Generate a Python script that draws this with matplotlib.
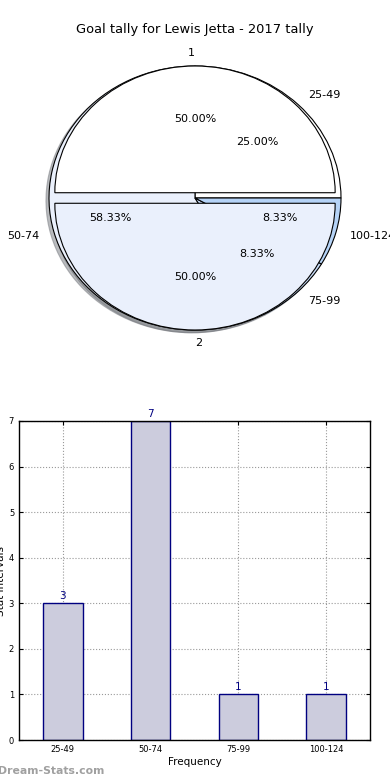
import matplotlib
matplotlib.use('Agg')
import matplotlib.pyplot as plt

# goal tallies per interval
intervals = ['25-49', '50-74', '75-99', '100-124']
counts = [3, 7, 1, 1]

# halves of the season
halves = ['1', '2']
half_values = [1, 1]

interval_colors = ['white', '#eaf0fc', '#c8dcf8', '#b5d3f7']
half_colors = ['white', '#eaf0fc']

fig = plt.figure(figsize=(3.9, 7.8), dpi=100)

fig.text(0.5, 1 - 30 / 780, 'Goal tally for Lewis Jetta - 2017 tally',
         ha='center', va='center', fontsize=9.4)

# pie (not circular, like the old matplotlib output)
shadow = {'ox': -0.015, 'oy': -0.015, 'shade': 0.5}
ax1 = fig.add_axes([0.0, 1 - 360 / 780, 1.0, 320 / 780])
ax1.pie(counts, labels=intervals, colors=interval_colors, autopct='%1.2f%%',
        startangle=0, shadow=shadow,
        wedgeprops={'edgecolor': 'black', 'linewidth': 0.8},
        textprops={'fontsize': 8})
ax1.pie(half_values, labels=halves, colors=half_colors, autopct='%1.2f%%',
        startangle=0, shadow=shadow, radius=0.96, explode=[0.04, 0.04],
        labeldistance=1.1, pctdistance=0.58,
        wedgeprops={'edgecolor': 'black', 'linewidth': 0.8},
        textprops={'fontsize': 8})
ax1.set_aspect('auto')
ax1.set_xlim(-195 / 146, 195 / 146)
ax1.set_ylim((198 - 360) / 132, (198 - 40) / 132)
ax1.axis('off')

# bar chart
ax2 = fig.add_axes([19 / 390, 1 - 740 / 780, 351 / 390, 319 / 780])
xpos = list(range(len(intervals)))
bars = ax2.bar(xpos, counts, width=0.45, color='#ccccdd', edgecolor='#000080',
               linewidth=1, zorder=2)
for b, c in zip(bars, counts):
    ax2.text(b.get_x() + b.get_width() / 2, c + 0.05, str(c), ha='center',
             va='bottom', color='#000080', fontsize=7.5)
ax2.set_xlim(-0.5, 3.5)
ax2.set_ylim(0, 7)
ax2.set_xticks(xpos)
ax2.set_xticklabels(intervals)
ax2.set_yticks(range(8))
ax2.tick_params(labelsize=6, direction='in', top=True, right=True, length=3)
ax2.grid(True, linestyle=':', color='#999999', linewidth=0.8, zorder=0)
ax2.set_axisbelow(True)
ax2.set_xlabel('Frequency', fontsize=7.5, labelpad=2)
ax2.set_ylabel('Stat Intervals', fontsize=7.5, labelpad=2)
for s in ax2.spines.values():
    s.set_linewidth(1)

fig.text(-0.005, 1 - 771 / 780, 'Dream-Stats.com', ha='left', va='center',
         fontsize=7.8, fontweight='bold', color='#a0a0a0')

fig.savefig('out.png', dpi=100)
